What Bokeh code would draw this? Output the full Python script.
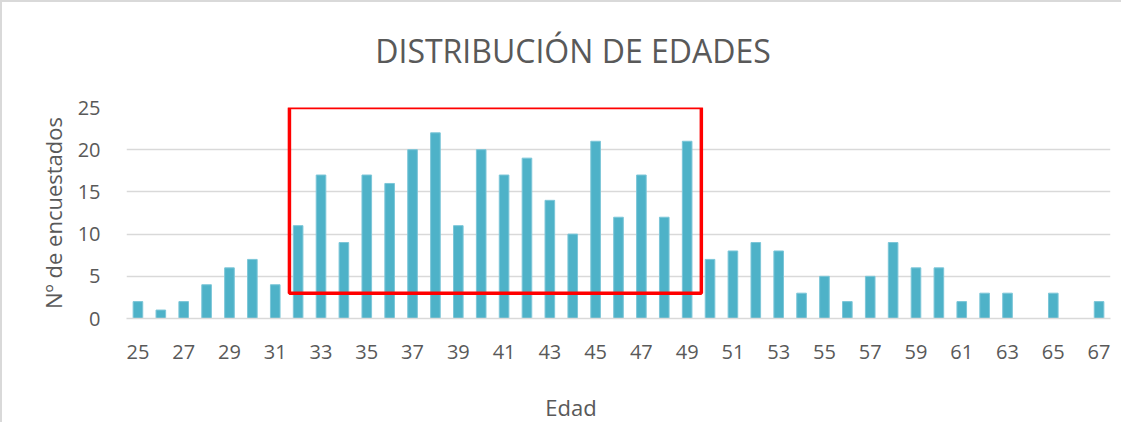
from bokeh.plotting import figure
from bokeh.models import Range1d, FixedTicker, BoxAnnotation, ColumnDataSource, Div
from bokeh.layouts import column
from bokeh.embed import file_html
from bokeh.resources import INLINE

ages = list(range(25, 68))
counts = [2, 1, 2, 4, 6, 7, 4, 11, 17, 9, 17, 16, 20, 22, 11, 20, 17, 19, 14, 10,
          21, 12, 17, 12, 21, 7, 8, 9, 8, 3, 5, 2, 5, 9, 6, 6, 2, 3, 3, 0, 3, 0, 2]
x_ticks = list(range(25, 68, 2))
y_ticks = [0, 5, 10, 15, 20, 25]
highlight_ages = (32, 49)
highlight_min = 3
title_text = "DISTRIBUCIÓN DE EDADES"
x_label_text = "Edad"
y_label_text = "Nº de encuestados"

FONT = "Open Sans"
GRAY = "#595959"

p = figure(width=1119, height=298, output_backend="svg", toolbar_location=None,
           x_range=Range1d(24.5, 67.5), y_range=Range1d(0, 25),
           min_border_left=124, min_border_right=11, min_border_top=27,
           min_border_bottom=60)
p.outline_line_color = None

src = ColumnDataSource(dict(x=ages, top=counts))
p.vbar(x="x", top="top", width=0.42, source=src, fill_color="#4EB2C8",
       line_color="#7CC6D8", line_width=1)

hl = BoxAnnotation(left=highlight_ages[0] - 0.38, right=highlight_ages[1] + 0.62,
                   bottom=highlight_min, top=25, fill_alpha=0,
                   line_color="#FF0000", line_alpha=1.0, line_width=3.5)
p.add_layout(hl)

p.xgrid.grid_line_color = None
p.ygrid.grid_line_color = "#d9d9d9"
p.ygrid.grid_line_width = 1.5
p.ygrid.ticker = FixedTicker(ticks=y_ticks)

p.xaxis.ticker = FixedTicker(ticks=x_ticks)
p.yaxis.ticker = FixedTicker(ticks=y_ticks)
for ax in (p.xaxis[0], p.yaxis[0]):
    ax.major_tick_line_color = None
    ax.minor_tick_line_color = None
    ax.major_label_text_font = FONT
    ax.major_label_text_font_size = "20px"
    ax.major_label_text_color = GRAY
    ax.axis_label_text_font = FONT
    ax.axis_label_text_font_size = "22px"
    ax.axis_label_text_font_style = "normal"
    ax.axis_label_text_color = GRAY
p.xaxis.axis_line_color = "#d9d9d9"
p.xaxis.axis_line_width = 1.5
p.yaxis.axis_line_color = None
p.yaxis.axis_label = y_label_text
p.xaxis.major_label_standoff = 20
p.yaxis.major_label_standoff = 20
p.yaxis.axis_label_standoff = 7

title_div = Div(
    text=(f'<div style="font-family:\'Open Sans\';font-size:32px;color:{GRAY};'
          f'line-height:38px;padding-top:30px;width:600px;margin-left:271px;'
          f'text-align:center;white-space:nowrap">{title_text}</div>'),
    width=1119, height=78, margin=0)
xlabel_div = Div(
    text=(f'<div style="font-family:\'Open Sans\';font-size:22px;color:{GRAY};'
          f'line-height:30px;padding-top:14px;width:200px;margin-left:469px;'
          f'text-align:center;white-space:nowrap">{x_label_text}</div>'),
    width=1119, height=44, margin=0)

layout = column(title_div, p, xlabel_div, spacing=0,
                styles={"border-top": "2px solid #d9d9d9",
                        "border-left": "2px solid #d9d9d9"})

open("out.html", "w").write(file_html(layout, INLINE))
